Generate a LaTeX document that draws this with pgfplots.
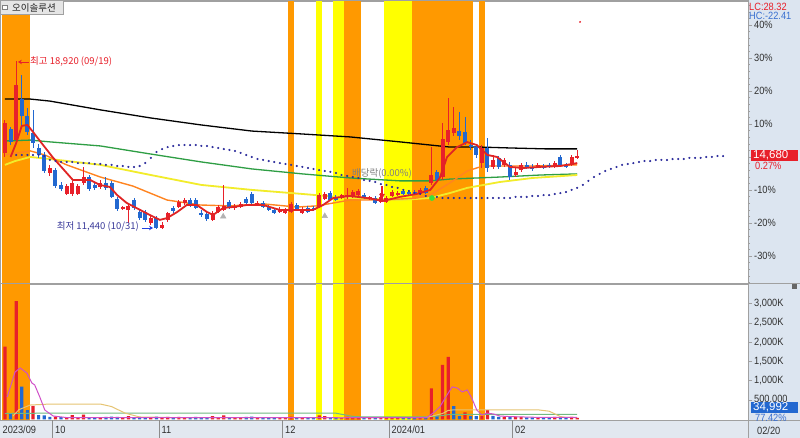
\documentclass[border=0pt]{standalone}
\usepackage{pgfplots}
\pgfplotsset{compat=1.18}
\usepackage{pgfplotstable}
\usepackage{fontspec}
\setmainfont{Liberation Sans}
\newfontfamily\narrow[FakeStretch=0.88]{Liberation Sans}
\newfontfamily\kr{Noto Sans CJK KR}
\usetikzlibrary{arrows.meta}
\definecolor{cred}{HTML}{E8202A}
\definecolor{cblue}{HTML}{2268D0}
\definecolor{bandO}{HTML}{FF9900}
\definecolor{bandY}{HTML}{FFFF00}
\definecolor{maGreen}{HTML}{2E9E44}
\definecolor{maYellow}{HTML}{F2EC2A}
\definecolor{maOrange}{HTML}{FF8420}
\definecolor{maRed}{HTML}{E02424}
\definecolor{dotBlue}{HTML}{2C2C9C}
\definecolor{panel}{HTML}{DCE5F0}
\definecolor{strip}{HTML}{E2E8F0}
\definecolor{frame}{HTML}{A0A0A0}
\definecolor{txt}{HTML}{303030}
\definecolor{vMag}{HTML}{D050C8}
\definecolor{vTan}{HTML}{E6C472}
\definecolor{vGreen}{HTML}{70B882}
\definecolor{lowtxt}{HTML}{3A3A9A}
\definecolor{hctxt}{HTML}{3A70D0}
\definecolor{lowarrow}{HTML}{2040E0}
\definecolor{gdot}{HTML}{3CE03C}

% up (red) candles: index open high low close
\pgfplotstableread{
i O H L C
0 14820 16280 14640 16150
2 15390 18920 15260 17830
8 13930 14290 13800 14150
11 13000 13440 12950 13350
12 13000 13580 12910 13490
13 13000 13440 12950 13350
14 13490 14200 13400 13750
17 13310 13620 13220 13490
21 12330 12470 12290 12420
22 12290 12560 11710 12470
26 11710 12020 11620 11930
28 11490 11760 11460 11620
29 11850 12200 11760 12160
31 12420 12730 12380 12640
32 12600 12820 12510 12730
37 11850 12250 11800 12160
38 12200 12510 12160 12420
39 12290 13400 12250 12470
41 12380 12560 12290 12470
42 12420 12640 12380 12560
45 12510 12690 12470 12600
49 12200 12420 12160 12330
50 12160 12380 12110 12290
51 12200 12640 12160 12560
53 12160 12420 12110 12330
56 12420 13040 12380 12950
57 12780 13090 12730 13000
60 12820 13000 12780 12950
61 12870 13270 12780 12950
62 12870 13180 12820 13090
63 12950 13220 12910 13130
65 12780 12910 12730 12870
67 12640 13040 12600 12870
68 12640 12910 12600 12820
69 12910 13180 12870 13090
70 12950 13130 12910 13040
74 13000 13270 12950 13180
76 13490 15080 13400 13840
78 13750 16150 13620 15440
79 15310 17260 15170 15840
80 15700 16860 15570 15930
85 14370 15170 14150 15040
87 14200 14730 14110 14510
89 14290 14600 14200 14510
91 13840 14150 13750 13980
92 14060 14370 13980 14290
95 14200 14370 14150 14290
98 14200 14460 14150 14370
101 14290 14730 14240 14640
102 14600 14950 14550 14680
}\upc

% down (blue) candles
\pgfplotstableread{
i O H L C
1 15880 15970 15170 15310
3 17210 18280 16060 16460
4 16460 16810 15620 15750
5 15700 16730 15040 15260
6 15040 15220 14600 14730
7 14730 14860 13930 14020
9 14060 14150 13270 13350
10 13400 13530 13130 13220
15 13750 13840 13130 13220
16 13400 13490 13180 13270
18 13490 13750 13180 13270
19 13490 13580 12820 12870
20 12780 12870 12250 12330
23 12730 12820 12290 12380
24 12200 12290 11850 11930
25 12200 12290 11760 11850
27 11930 12020 11440 11490
30 12380 12470 12160 12250
33 12730 12820 12420 12510
34 12730 12820 12330 12380
35 12160 12290 11980 12070
36 12110 12200 11800 11890
40 12640 12730 12330 12380
43 12780 12870 12510 12600
44 13000 13090 12510 12600
46 12600 12690 12380 12420
47 12420 12510 12250 12290
48 12290 12380 12110 12160
52 12510 12600 12250 12290
54 12380 12470 12160 12200
55 12380 12470 12250 12290
58 13040 13130 12690 12730
59 12870 12950 12690 12730
64 12950 13040 12780 12820
66 12820 12910 12560 12600
71 13130 13220 12950 13000
72 13090 13180 12950 13000
73 13090 13180 12950 13000
75 13270 13350 13000 13040
77 13980 14060 13530 13620
81 15790 16640 15390 15570
82 15750 16410 15170 15260
83 15170 15390 14950 15080
84 15080 15170 14600 14730
86 15040 15480 13980 14150
88 14600 14680 14110 14200
90 14290 14420 13620 13750
93 14290 14420 14110 14200
94 14200 14330 14020 14110
96 14240 14330 14110 14150
97 14290 14370 14150 14200
99 14640 14730 14200 14240
100 14290 14370 14150 14200
}\dnc

% dotted line (leading span)
\pgfplotstableread{
i p
2 14730
3 14730
4 14730
5 14730
6 14730
7 14680
8 14510
9 14460
10 14420
11 14420
12 14420
13 14370
14 14370
15 14370
16 14330
17 14330
18 14290
19 14290
20 14240
21 14240
22 14200
23 14200
24 14240
25 14370
26 14600
27 14860
28 14990
29 15080
30 15130
31 15170
32 15170
33 15170
34 15170
35 15130
36 15130
37 15080
38 15040
39 14990
40 14950
41 14910
42 14820
43 14730
44 14640
45 14550
46 14510
47 14460
48 14420
49 14370
50 14330
51 14290
52 14240
53 14200
54 14150
55 14110
56 14060
57 14020
58 13980
59 13930
60 13840
61 13800
62 13750
63 13710
64 13620
65 13580
66 13530
67 13440
68 13400
69 13310
70 13270
71 13180
72 13130
73 13040
74 13000
75 12910
76 12870
77 12870
78 12820
79 12820
80 12820
81 12820
82 12820
83 12820
84 12820
85 12820
86 12820
87 12820
88 12820
89 12820
90 12820
91 12870
92 12870
93 12870
94 12910
95 12910
96 12950
97 12950
98 13000
99 13040
100 13090
101 13180
102 13270
103 13400
104 13580
105 13750
106 13890
107 14020
108 14110
109 14200
110 14290
111 14330
112 14370
113 14420
114 14460
115 14460
116 14510
117 14510
118 14510
119 14550
120 14550
121 14550
122 14600
123 14600
124 14600
125 14640
126 14640
127 14680
128 14680
}\spandata

% volume (thousand shares)
\pgfplotstableread{
i v
0 1880
2 3060
5 345
9 70
11 55
12 110
13 55
14 120
17 55
21 45
22 80
26 45
28 55
29 60
31 60
32 55
37 80
38 55
39 100
41 45
42 55
45 40
49 45
50 45
51 70
53 45
56 100
57 80
60 45
61 60
62 55
63 60
65 40
67 55
68 45
69 55
70 45
74 55
76 800
78 1410
79 1620
82 180
85 80
86 240
89 60
91 70
92 60
95 50
98 60
101 60
102 35
}\vup
\pgfplotstableread{
i v
1 155
3 845
4 240
6 110
7 100
8 60
10 55
15 55
16 45
18 60
19 70
20 60
23 55
24 60
25 55
27 70
30 45
33 45
34 60
35 55
36 45
40 55
43 60
44 70
46 45
47 45
48 55
52 45
54 45
55 40
58 55
59 40
64 45
66 45
71 45
72 40
73 40
75 55
77 90
80 340
81 80
83 80
84 80
87 90
88 65
90 85
93 50
94 50
96 50
97 50
99 65
100 50
}\vdn

\newcommand{\bands}[2]{%
\addplot[fill=bandO,draw=none,forget plot] coordinates {(-0.53,#1)(-0.53,#2)(4.5,#2)(4.5,#1)};
\addplot[fill=bandO,draw=none,forget plot] coordinates {(50.5,#1)(50.5,#2)(51.5,#2)(51.5,#1)};
\addplot[fill=bandY,draw=none,forget plot] coordinates {(55.5,#1)(55.5,#2)(56.5,#2)(56.5,#1)};
\addplot[fill=bandY,draw=none,forget plot] coordinates {(58.5,#1)(58.5,#2)(60.5,#2)(60.5,#1)};
\addplot[fill=bandO,draw=none,forget plot] coordinates {(60.5,#1)(60.5,#2)(63.5,#2)(63.5,#1)};
\addplot[fill=bandY,draw=none,forget plot] coordinates {(67.5,#1)(67.5,#2)(72.5,#2)(72.5,#1)};
\addplot[fill=bandO,draw=none,forget plot] coordinates {(72.5,#1)(72.5,#2)(83.5,#2)(83.5,#1)};
\addplot[fill=bandO,draw=none,forget plot] coordinates {(84.5,#1)(84.5,#2)(85.5,#2)(85.5,#1)};
}

\begin{document}
\begin{tikzpicture}[x=1pt,y=1pt]
\useasboundingbox (0,0) rectangle (800,438);
\fill[white] (0,0) rectangle (800,438);
\fill[panel] (748,0) rectangle (800,438);
\fill[strip] (0,0) rectangle (748,18);

% ---------------- price panel
\begin{axis}[
  at={(2pt,155pt)}, anchor=south west, scale only axis,
  width=746pt, height=282pt,
  xmin=-0.53, xmax=132.44, ymin=9050, ymax=21560,
  xtick=\empty, scaled y ticks=false,
  ytick={10248,11712,13176,14640,16104,17568,19032,20496},
  yticklabels={-30\%,-20\%,-10\%,,10\%,20\%,30\%,40\%},
  minor ytick={9077,9370,9662,9955,10541,10834,11126,11419,12005,12298,12590,12883,13469,13762,14054,14347,14933,15226,15518,15811,16397,16690,16982,17275,17861,18154,18446,18739,19325,19618,19910,20203,20789,21082,21374},
  ytick pos=right, yticklabel pos=right, ytick align=outside,
  major tick length=4pt, minor tick length=2pt,
  tick style={draw=frame, line width=0.5pt},
  axis line style={draw=frame, line width=0.6pt},
  yticklabel style={font=\narrow\fontsize{10.5}{12}\selectfont, text=txt, inner sep=1pt, xshift=1pt},
]
\bands{8000}{23000}
% moving averages
\addplot[black, line width=1.3pt, forget plot] coordinates {(0,17210)(4.5,17210)(8,17120)(17,16730)(26,16370)(35,16060)(44,15790)(53,15660)(61.5,15530)(70.4,15310)(79.3,15080)(84.7,15080)(90,15040)(96.3,15000)(102,15000)};
\addplot[maGreen, line width=1.3pt, forget plot] coordinates {(0,15350)(4.5,15390)(8,15310)(17,15130)(26,14770)(35,14420)(44,14110)(53,13890)(61.5,13710)(70.4,13580)(75.8,13580)(79.3,13660)(88.2,13750)(95.4,13840)(102,13890)};
\addplot[maYellow, line width=1.8pt, forget plot] coordinates {(0,14290)(1.8,14460)(4.5,14640)(8,14550)(17,14290)(26,13840)(35,13400)(44,13180)(53,13000)(61.5,12820)(70.4,12730)(75.8,12820)(79.3,13040)(82.4,13270)(88.2,13530)(94.1,13710)(102,13840)};
\addplot[maOrange, line width=1.4pt, forget plot] coordinates {(0,14730)(4.5,14910)(7.1,14730)(11,14290)(17,13750)(22.8,13350)(28.9,12730)(34.8,12510)(40.1,12470)(46,12560)(52,12420)(55.6,12470)(61.5,12730)(67.4,12730)(73.4,12820)(75.8,12950)(79.3,13490)(82.4,14020)(85.2,14240)(88.2,14240)(94.1,14240)(102,14290)};
\addplot[only marks, mark=*, mark size=0.85pt, color=dotBlue, forget plot] table[x=i,y=p] {\spandata};
% candles
\addplot[draw=none, mark=none, forget plot, error bars/.cd, y dir=both, y explicit, error mark=none, error bar style={draw=cred, line width=1pt}] table[x=i, y expr={0.5*(\thisrow{H}+\thisrow{L})}, y error expr={0.5*(\thisrow{H}-\thisrow{L})}] {\upc};
\addplot[draw=none, mark=none, forget plot, error bars/.cd, y dir=both, y explicit, error mark=none, error bar style={draw=cred, line width=4pt}] table[x=i, y expr={0.5*(\thisrow{O}+\thisrow{C})}, y error expr={0.5*(\thisrow{C}-\thisrow{O})}] {\upc};
\addplot[draw=none, mark=none, forget plot, error bars/.cd, y dir=both, y explicit, error mark=none, error bar style={draw=cblue, line width=1pt}] table[x=i, y expr={0.5*(\thisrow{H}+\thisrow{L})}, y error expr={0.5*(\thisrow{H}-\thisrow{L})}] {\dnc};
\addplot[draw=none, mark=none, forget plot, error bars/.cd, y dir=both, y explicit, error mark=none, error bar style={draw=cblue, line width=4pt}] table[x=i, y expr={0.5*(\thisrow{O}+\thisrow{C})}, y error expr={0.5*(\thisrow{O}-\thisrow{C})}] {\dnc};
% 5-day line
\addplot[maRed, line width=1.8pt, forget plot] coordinates {(1,14640)(2,15260)(3,16020)(4,16060)(5,15750)(6.8,15170)(8.6,14600)(11,13930)(12.1,13620)(13.4,13620)(15.2,13620)(16.9,13400)(18.7,13310)(20,12950)(21.7,12600)(24.1,12290)(25.8,12070)(27.6,11850)(28.9,11930)(30.7,12200)(32.4,12510)(34.2,12510)(36,12200)(37.1,12070)(38.9,12380)(40.6,12420)(43.1,12510)(46,12510)(49,12290)(52,12290)(54.9,12290)(56.7,12510)(58.5,12820)(61.5,12910)(64.5,12820)(67.4,12690)(70.4,12870)(73.4,13000)(75.8,13180)(77.5,13710)(78.8,14640)(80.6,15080)(82.4,15300)(84.1,15170)(86,14730)(87.7,14640)(90,14200)(92.3,14150)(95.4,14200)(99,14240)(102,14370)};
% markers
\addplot[only marks, mark=triangle*, mark size=3.2pt, color=black!30, forget plot] coordinates {(38.9,12000)(57,12020)};
\addplot[only marks, mark=*, mark size=2.6pt, color=gdot, forget plot] coordinates {(76.1,12820)};
\addplot[cred, line width=1.2pt, forget plot] coordinates {(67.2,13350)(67.2,13000)};
\addplot[only marks, mark=triangle*, mark size=3pt, mark options={rotate=180}, color=cred, forget plot] coordinates {(67.2,12930)};
\addplot[only marks, mark=*, mark size=0.7pt, color=cred, forget plot] coordinates {(102.5,20630)};
% annotations
\node[anchor=west, inner sep=0, text=cred, font=\kr\fontsize{9.5}{11}\selectfont] at (axis cs:4.46,18854) {최고 18,920 (09/19)};
\draw[cred, line width=0.8pt, -{Stealth[length=4pt,width=4.5pt]}] (axis cs:4.2,18854) -- (axis cs:2.3,18854);
\node[anchor=east, inner sep=0, text=lowtxt, font=\kr\fontsize{9.5}{11}\selectfont] at (axis cs:23.9,11535) {최저 11,440 (10/31)};
\draw[lowarrow, line width=0.8pt, -{Stealth[length=4pt,width=4.5pt]}] (axis cs:24.4,11490) -- (axis cs:26.4,11490);
\node[inner sep=0, text=black!50, font=\kr\fontsize{9.5}{11}\selectfont] at (axis cs:67.2,13885) {배당락(0.00\%)};
\end{axis}

% ---------------- volume panel
\begin{axis}[
  at={(2pt,18pt)}, anchor=south west, scale only axis,
  width=746pt, height=136pt,
  xmin=-0.53, xmax=132.44, ymin=-18, ymax=3505,
  xtick=\empty, scaled y ticks=false,
  ytick={500,1000,1500,2000,2500,3000},
  yticklabels={{500,000},{1,000K},{1,500K},{2,000K},{2,500K},{3,000K}},
  ytick pos=right, yticklabel pos=right, ytick align=outside,
  major tick length=4pt,
  tick style={draw=frame, line width=0.5pt},
  axis line style={draw=frame, line width=0.6pt},
  yticklabel style={font=\narrow\fontsize{10.5}{12}\selectfont, text=txt, inner sep=1pt, xshift=1pt},
]
\bands{-100}{4000}
\addplot[ybar, bar width=3.2pt, bar shift=0pt, fill=cred, draw=none, forget plot] table[x=i,y=v] {\vup};
\addplot[ybar, bar width=3.2pt, bar shift=0pt, fill=cblue, draw=none, forget plot] table[x=i,y=v] {\vdn};
\addplot[vGreen, line width=1pt, forget plot] coordinates {(0,150)(8,160)(59,158)(60,130)(62,75)(64,60)(75,60)(76,72)(78,95)(79,122)(80,128)(102,128)};
\addplot[vTan, line width=1pt, forget plot] coordinates {(1.4,80)(2.5,250)(4.5,370)(8,395)(17,395)(19,330)(21.4,160)(24,60)(30,45)(75,45)(76,80)(78,150)(79,230)(80,245)(95,245)(97,210)(98,140)(99,70)(100,50)(102,45)};
\addplot[vMag, line width=1pt, forget plot] coordinates {(0.4,580)(1.8,1225)(2.7,1330)(3.9,1200)(4.8,940)(5.3,890)(6.2,580)(7.1,240)(8.6,85)(11,45)(20,45)(40,45)(60,40)(75.2,45)(76.3,160)(77.5,320)(78.8,630)(79.7,840)(80.6,810)(81.5,710)(82.4,760)(83.2,550)(84.1,240)(85,110)(85.9,160)(87,140)(88.2,85)(90,70)(95,50)(102,50)};
\end{axis}

% ---------------- frames and overlays
\draw[frame, line width=0.6pt] (0,155) -- (800,155);
\draw[frame, line width=0.6pt] (0.5,18) -- (0.5,437.5) -- (748,437.5);
\draw[frame, line width=0.6pt] (0,18) -- (800,18);
\draw[frame, line width=0.6pt] (748,0) -- (748,438);
\foreach \xx in {52.7,159.3,282.7,389.3,512.7} \draw[black!45, line width=0.6pt] (\xx,0) -- (\xx,18);
\begin{scope}[font=\narrow\fontsize{10.5}{12}\selectfont, text=txt]
\node[anchor=west, inner sep=0] at (2.5,8.5) {2023/09};
\node[anchor=west, inner sep=0] at (55,8.5) {10};
\node[anchor=west, inner sep=0] at (161.5,8.5) {11};
\node[anchor=west, inner sep=0] at (285,8.5) {12};
\node[anchor=west, inner sep=0] at (391.5,8.5) {2024/01};
\node[anchor=west, inner sep=0] at (515,8.5) {02};
\node[anchor=west, inner sep=0] at (757,7) {02/20};
\node[anchor=west, inner sep=0, text=cred] at (749,431.5) {LC:28.32};
\node[anchor=west, inner sep=0, text=hctxt] at (749,422.5) {HC:-22.41};
\end{scope}
% price label
\fill[cred] (751,277) rectangle (798,288);
\node[anchor=west, inner sep=0, text=white, font=\fontsize{11.5}{12}\selectfont] at (753,282.5) {14,680};
\node[anchor=west, inner sep=0, text=cred, font=\narrow\fontsize{10.5}{12}\selectfont] at (755,272) {0.27\%};
% volume label
\fill[cblue] (751,25) rectangle (798,36);
\node[anchor=west, inner sep=0, text=white, font=\fontsize{11.5}{12}\selectfont] at (753,30.5) {34,992};
\node[anchor=west, inner sep=0, text=hctxt, font=\narrow\fontsize{10.5}{12}\selectfont] at (755,20) {77.42\%};
\fill[black!60] (792,149) rectangle (797,153.5);
% title box
\fill[black!10] (0,424) rectangle (63,438);
\draw[frame, line width=0.5pt] (0.3,424) rectangle (63,437.7);
\filldraw[fill=white, draw=black!50, line width=0.4pt] (2.5,428.5) rectangle (7,433);
\node[anchor=west, inner sep=0, text=black!85, font=\kr\fontsize{9.5}{11}\selectfont] at (12,430.5) {오이솔루션};
\end{tikzpicture}
\end{document}
